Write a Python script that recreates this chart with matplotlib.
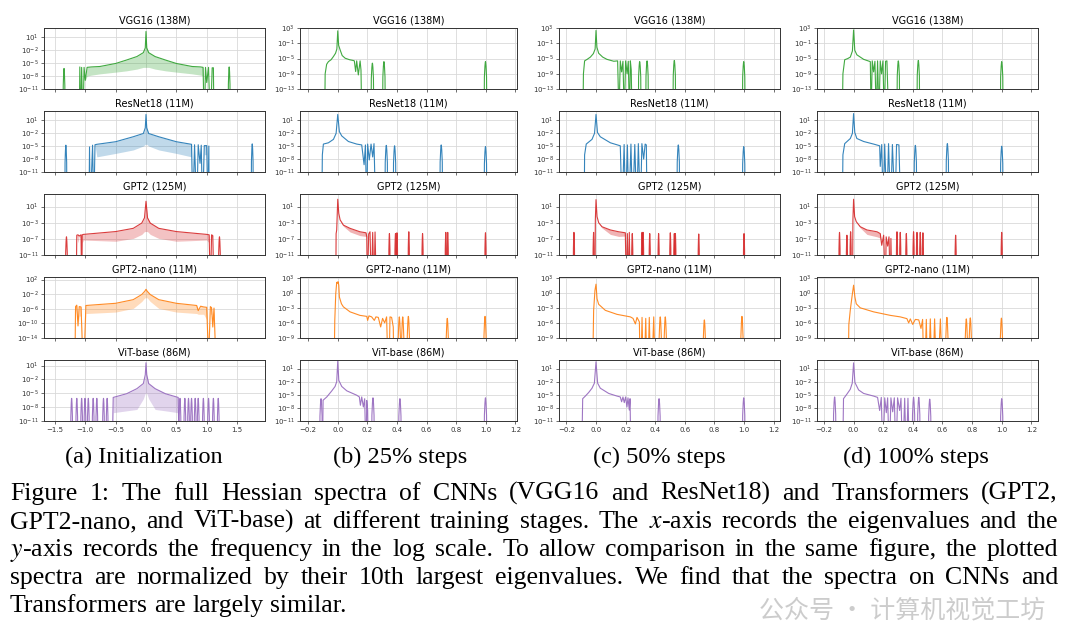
import numpy as np
import matplotlib.pyplot as plt
from matplotlib.ticker import NullLocator

plt.rcParams['mathtext.fontset'] = 'stix'

F = -20  # log10 value that sits below every axis (curve drops out)

# ---------------- (a) Initialization ----------------
# x, upper curve (log10 density), lower edge of the dense comb band
vgg_a_x = [-1.1, -1.09, -1.075, -1.06, -1.04, -1.02, -1.0, -0.97, -0.9, -0.76, -0.5, -0.32, -0.15, -0.044, -0.012, 0.0, 0.012, 0.044, 0.15, 0.32, 0.5, 0.76, 0.9, 0.94, 0.96, 0.98, 1.0, 1.03, 1.06, 1.09, 1.11, 1.12]
vgg_a_hi = [F, -5.9, F, -6.0, F, -6.0, -9.0, -6.0, -5.9, -5.8, -5.1, -4.3, -3.5, -2.6, -1.5, 2.3, -1.5, -2.6, -3.5, -4.3, -5.1, -5.8, -5.9, -6.0, F, -6.0, -9.5, -6.0, F, -6.1, -6.1, F]
vgg_a_lo = [F, -5.9, F, -6.0, F, -6.0, -9.0, -8.0, -7.8, -7.5, -7.1, -6.8, -6.4, -6.0, -6.0, -6.0, -6.0, -6.0, -6.4, -6.8, -7.1, -7.5, -7.8, -8.0, F, -6.0, -9.5, -6.0, F, -6.1, -6.1, F]
vgg_a_spk = [(-1.35, -6.25), (1.37, -5.9)]

res_a_x = [-0.94, -0.93, -0.92, -0.88, -0.86, -0.84, -0.81, -0.5, -0.21, -0.044, -0.012, 0.0, 0.012, 0.044, 0.21, 0.5, 0.75, 0.77, 0.8, 0.835, 0.86, 0.89, 0.91, 0.93, 0.96, 1.0, 1.02, 1.035, 1.04]
res_a_hi = [F, -5.2, F, -4.8, F, -4.7, -4.6, -4.0, -2.85, -2.1, -0.8, 2.3, -0.8, -2.1, -2.85, -4.0, -4.6, F, -4.7, F, -4.7, -9.0, -4.8, F, -4.9, -4.9, F, -5.0, F]
res_a_lo = [F, -5.2, F, -4.8, F, -4.7, -7.5, -6.7, -5.9, -5.0, -4.6, -4.6, -4.6, -5.0, -5.9, -6.7, -7.5, F, -4.7, F, -4.7, -9.0, -7.0, F, -7.0, -7.0, F, -5.0, F]
res_a_spk = [(-1.32, -4.8), (1.75, -4.5)]

gpt_a_x = [-1.15, -1.14, -1.12, -1.1, -1.07, -1.06, -1.05, -1.03, -0.5, -0.21, -0.07, -0.025, 0.0, 0.025, 0.07, 0.21, 0.5, 1.0, 1.04, 1.06, 1.08, 1.1, 1.12]
gpt_a_hi = [F, -6.1, -6.0, -6.3, -6.0, F, -6.0, -5.9, -5.2, -4.4, -3.1, -1.8, 2.3, -1.8, -3.1, -4.4, -5.2, -5.9, -6.0, F, -6.0, -6.2, F]
gpt_a_lo = [F, -6.1, -8.0, -6.3, -7.0, F, -8.0, -7.3, -7.6, -6.9, -5.9, -5.2, -5.2, -5.2, -5.9, -6.9, -7.6, -7.3, -8.0, F, -7.0, -6.2, F]
gpt_a_spk = [(-1.31, -6.5), (1.21, -6.5)]

nano_a_x = [-1.17, -1.16, -1.14, -1.12, -1.1, -1.07, -1.04, -1.02, -0.99, -0.5, -0.21, -0.07, -0.02, 0.0, 0.02, 0.07, 0.21, 0.5, 0.835, 0.86, 0.9, 0.95, 1.0, 1.03, 1.06, 1.08, 1.1, 1.12, 1.15]
nano_a_hi = [F, -5.4, -5.0, -10.7, -5.4, -5.5, F, F, -5.1, -4.5, -3.5, -2.1, -1.2, -0.67, -1.2, -2.1, -3.5, -4.5, -5.1, -6.5, -5.3, -5.5, -5.6, F, -5.4, -5.7, -11.0, -5.8, F]
nano_a_lo = [F, -5.4, -8.0, -10.7, -8.0, -8.0, F, F, -7.3, -6.9, -5.9, -4.0, -3.0, -3.0, -3.0, -4.0, -5.9, -6.9, -7.3, -7.5, -7.5, -7.5, -9.0, F, -7.5, -7.5, -11.0, -7.5, F]
nano_a_spk = []

vit_a_x = [-0.56, -0.54, -0.32, -0.15, -0.044, -0.012, 0.0, 0.012, 0.044, 0.15, 0.32, 0.53, 0.55]
vit_a_hi = [F, -5.9, -5.1, -4.0, -2.9, -1.0, 1.6, -1.0, -2.9, -4.0, -5.1, -5.9, F]
vit_a_lo = [F, -9.2, -8.8, -8.5, -6.2, -5.0, -5.0, -5.0, -6.2, -8.5, -8.8, -9.2, F]
vit_a_spk = [(-1.225, -6.1), (-1.14, -6.1), (-1.06, -6.1), (-1.005, -6.1), (-0.95, -6.1),
             (-0.87, -6.1), (-0.81, -6.1), (-0.70, -6.1), (-0.64, -6.1), (0.56, -6.1),
             (0.64, -6.1), (0.70, -6.1), (0.75, -6.1), (0.81, -6.1), (0.86, -6.1),
             (0.945, -6.1), (1.03, -6.1), (1.11, -6.1), (1.19, -6.1)]

# ---------------- (b) 25% steps ----------------
vgg_b_x = [-0.088, -0.085, -0.075, -0.063, -0.045, -0.03, -0.015, -0.006, 0.0, 0.006, 0.016, 0.03, 0.05, 0.08, 0.105, 0.112, 0.121, 0.128, 0.139, 0.151, 0.157, 0.162]
vgg_b_y = [F, -9.0, -6.5, -5.8, -5.3, -4.5, -3.6, -2.5, 2.3, -1.5, -2.7, -4.2, -4.9, -5.3, -5.5, -5.6, -8.4, -5.6, -9.3, -5.6, -8.0, F]
vgg_b_spk = [(0.234, -6.2), (0.312, -5.8), (0.998, -5.8)]

res_b_x = [-0.108, -0.104, -0.097, -0.063, -0.029, -0.011, 0.0, 0.011, 0.027, 0.072, 0.128, 0.162, 0.178, 0.187, 0.196, 0.202, 0.213, 0.225, 0.236, 0.245, 0.256]
res_b_y = [F, -7.0, -4.5, -4.2, -3.4, -2.0, 2.4, -1.6, -2.6, -3.9, -4.5, -4.7, -9.3, -4.7, F, -4.5, -8.2, -4.5, -7.5, -4.4, F]
res_b_spk = [(0.328, -4.8), (0.384, -4.9), (0.699, -4.7), (0.998, -5.1)]

gpt_b_x = [-0.0135, -0.011, -0.007, 0.0, 0.007, 0.016, 0.038, 0.083, 0.15, 0.191, 0.196, 0.2, 0.209, 0.218, 0.227, 0.236, 0.245, 0.252, 0.261]
gpt_b_y = [F, -5.7, -4.8, 2.8, -0.7, -2.3, -3.6, -4.4, -5.25, -5.5, -6.5, F, -5.8, -5.25, F, -5.4, F, -5.3, F]
gpt_b_lo = [F, -5.7, -4.8, 2.8, -0.7, -2.3, -3.9, -5.3, -6.2, -6.4, -6.5, F, -5.8, -5.25, F, -5.4, F, -5.3, F]
gpt_b_spk = [(0.349, -5.7), (0.39, -5.7), (0.40, -5.5), (0.48, -5.25), (0.573, -5.7),
             (0.73, -5.4), (0.743, -5.4), (0.998, -5.5)]

nano_b_x = [-0.027, -0.02, -0.0135, -0.007, -0.002, 0.002, 0.007, 0.011, 0.025, 0.038, 0.083, 0.15, 0.196, 0.202, 0.211, 0.229, 0.247, 0.258, 0.274, 0.29, 0.303, 0.317, 0.33, 0.344, 0.353, 0.364, 0.375, 0.382]
nano_b_y = [F, -5.5, -0.2, 2.07, 1.9, 2.2, 1.5, -0.85, -2.2, -2.8, -3.8, -4.5, -4.7, -5.5, -4.6, -4.8, -5.5, -4.8, -4.9, -6.8, -5.1, -6.0, -4.8, F, -4.8, -4.9, -6.8, F]
nano_b_spk = [(0.416, -4.8), (0.439, -4.8), (0.477, -4.7), (0.74, -5.1), (0.995, -4.7)]

vit_b_x = [-0.104, -0.099, -0.074, -0.04, -0.018, -0.007, 0.0, 0.007, 0.027, 0.061, 0.128, 0.146, 0.153, 0.162, 0.173, 0.182, 0.191, 0.196, 0.202, 0.207]
vit_b_y = [F, -6.25, -5.5, -4.1, -3.1, -2.0, 2.7, -1.7, -3.1, -4.1, -5.1, -5.5, -7.4, -5.5, -7.8, -5.9, F, -6.3, -8.5, F]
vit_b_spk = [(-0.113, -5.9), (0.238, -5.7), (0.42, -5.9), (0.998, -5.7)]

# ---------------- (c) 50% steps ----------------
vgg_c_x = [-0.088, -0.085, -0.077, -0.06, -0.038, -0.018, -0.006, 0.0, 0.006, 0.018, 0.045, 0.074, 0.12, 0.146, 0.155, 0.164, 0.173, 0.182, 0.191, 0.2, 0.21, 0.218, 0.226, 0.232, 0.238, 0.243]
vgg_c_y = [F, -9.0, -5.6, -5.2, -4.6, -3.7, -2.5, 2.4, -2.0, -3.6, -4.6, -5.2, -5.7, -5.6, F, -5.6, -8.5, -5.7, F, -5.6, -9.0, -5.7, F, -5.6, -8.0, F]
vgg_c_spk = [(0.295, -5.8), (0.345, -5.6), (0.529, -5.5), (0.998, -5.8)]

res_c_x = [-0.08, -0.077, -0.066, -0.027, -0.01, 0.0, 0.01, 0.029, 0.097, 0.164, 0.176, 0.19, 0.2, 0.212, 0.222, 0.236, 0.247, 0.262, 0.275, 0.286, 0.3, 0.31, 0.322, 0.332, 0.34, 0.345]
res_c_y = [F, -7.0, -4.5, -3.4, -2.0, 2.4, -1.8, -2.8, -4.2, -4.9, F, -4.6, F, -4.7, F, -4.5, F, -4.6, F, -4.4, F, -4.4, -8.0, -4.5, -4.7, F]
res_c_spk = [(0.556, -4.7), (0.998, -5.1)]

gpt_c_x = [-0.007, -0.0045, 0.0, 0.007, 0.018, 0.04, 0.097, 0.153, 0.198, 0.205, 0.212, 0.218, 0.225, 0.232]
gpt_c_y = [F, -2.3, 2.7, -1.5, -3.0, -4.0, -4.8, -5.25, -5.5, F, -5.7, F, -5.4, F]
gpt_c_lo = [F, -2.3, 2.7, -1.5, -3.0, -4.3, -5.9, -6.4, -6.3, F, -5.7, F, -5.4, F]
gpt_c_spk = [(-0.149, -5.4), (-0.016, -5.4), (0.245, -5.7), (0.311, -5.4), (0.318, -5.4),
             (0.363, -5.7), (0.423, -5.7), (0.502, -5.5), (0.529, -5.7), (0.536, -5.7),
             (0.694, -5.8), (1.0, -5.7)]

nano_c_x = [-0.025, -0.016, -0.007, 0.0, 0.007, 0.018, 0.063, 0.142, 0.232, 0.25, 0.266, 0.277, 0.293, 0.3, 0.311, 0.322, 0.336, 0.347, 0.36, 0.372, 0.39, 0.403]
nano_c_y = [F, -3.5, 0.5, 1.7, -1.2, -2.3, -3.5, -4.3, -4.8, -5.1, -6.2, -4.9, -5.8, F, -4.9, F, -5.1, F, -4.9, F, -4.8, F]
nano_c_spk = [(0.434, -4.8), (0.468, -4.8), (0.732, -5.4), (0.986, -4.7)]

vit_c_x = [-0.097, -0.09, -0.072, -0.05, -0.027, -0.011, 0.0, 0.011, 0.029, 0.086, 0.142, 0.164, 0.173, 0.182, 0.191, 0.2, 0.209, 0.216, 0.225, 0.23, 0.236]
vit_c_y = [F, -5.9, -5.3, -4.5, -3.5, -2.35, 2.55, -2.35, -3.5, -4.7, -5.3, -5.5, -6.6, -5.5, -6.8, -5.5, -7.8, -5.7, -8.5, -5.9, F]
vit_c_spk = [(0.426, -5.9), (0.998, -5.7)]

# ---------------- (d) 100% steps ----------------
vgg_d_x = [-0.076, -0.072, -0.06, -0.04, -0.022, -0.008, 0.0, 0.008, 0.022, 0.068, 0.113, 0.118, 0.126, 0.135, 0.144, 0.153, 0.162, 0.171, 0.18, 0.189, 0.198, 0.207, 0.216, 0.225, 0.236]
vgg_d_y = [F, -9.0, -5.3, -5.0, -4.6, -3.0, 2.55, -2.8, -4.0, -5.2, -5.8, F, -5.6, -8.5, -5.7, F, -5.6, F, -5.6, -9.0, -5.6, F, -5.7, -5.6, F]
vgg_d_spk = [(0.302, -5.6), (0.437, -5.5), (1.0, -5.8)]

res_d_x = [-0.076, -0.072, -0.06, -0.022, -0.008, 0.0, 0.008, 0.022, 0.068, 0.135, 0.176, 0.18, 0.19, 0.2, 0.21, 0.224, 0.236, 0.25, 0.262, 0.28, 0.29, 0.306, 0.318]
res_d_y = [F, -7.0, -4.4, -3.2, -2.0, 2.6, -1.8, -3.2, -3.9, -4.5, -4.9, -9.7, -4.6, F, -4.5, F, -4.4, F, -4.6, F, -4.6, -4.7, F]
res_d_spk = [(0.417, -4.8), (0.633, -4.4), (1.0, -5.0)]

gpt_d_x = [-0.007, -0.0045, 0.0, 0.007, 0.018, 0.045, 0.09, 0.158, 0.18, 0.19, 0.203, 0.214, 0.22, 0.23, 0.239, 0.248, 0.252, 0.259]
gpt_d_y = [F, -2.3, 2.8, -1.5, -2.75, -4.0, -4.8, -5.25, -5.7, -8.6, -6.1, F, -6.5, -8.8, -6.5, F, -6.9, F]
gpt_d_lo = [F, -2.3, 2.8, -1.5, -2.75, -4.3, -5.9, -6.5, -6.8, -8.6, -6.1, F, -6.5, -8.8, -6.5, F, -6.9, F]
gpt_d_spk = [(-0.095, -5.4), (-0.045, -6.1), (-0.02, -5.25), (0.293, -5.25), (0.315, -5.4),
             (0.356, -5.7), (0.405, -5.25), (0.428, -5.4), (0.45, -5.4), (0.468, -5.5),
             (0.689, -6.1), (1.0, -5.4)]

nano_d_x = [-0.038, -0.032, -0.0225, -0.011, 0.0, 0.009, 0.018, 0.045, 0.135, 0.248, 0.315, 0.36, 0.372, 0.383, 0.399, 0.417, 0.44, 0.455, 0.466, 0.477, 0.491, 0.502, 0.518, 0.532, 0.547, 0.563, 0.586, 0.604]
nano_d_y = [F, -6.3, -3.5, -0.85, 1.5, -0.85, -2.2, -3.0, -3.8, -4.5, -4.8, -5.15, -6.0, -5.2, -6.3, -5.3, -5.4, -7.1, -5.3, F, -5.3, F, -5.2, F, -5.2, F, -5.2, F]
nano_d_spk = [(0.63, -4.9), (0.761, -5.2), (0.788, -5.0), (0.998, -5.05)]

vit_d_x = [-0.074, -0.068, -0.045, -0.0225, -0.009, 0.0, 0.009, 0.034, 0.068, 0.135, 0.162, 0.176, 0.187, 0.198, 0.21, 0.221, 0.23, 0.241, 0.252, 0.264, 0.275, 0.286, 0.297, 0.311, 0.32, 0.331, 0.345, 0.356, 0.367, 0.378]
vit_d_y = [F, -5.9, -4.85, -3.75, -2.35, 2.3, -2.2, -3.9, -4.7, -5.3, -5.6, -8.6, -5.6, F, -5.7, -9.1, -5.7, F, -5.7, -8.9, -5.7, F, -5.7, -8.6, -5.8, F, -5.8, F, -5.8, F]
vit_d_spk = [(-0.128, -5.5), (0.405, -5.6), (0.44, -5.6), (0.514, -6.0), (1.0, -5.9)]

titles = ["VGG16 (138M)", "ResNet18 (11M)", "GPT2 (125M)", "GPT2-nano (11M)", "ViT-base (86M)"]
colors = ["tab:green", "tab:blue", "tab:red", "tab:orange", "tab:purple"]
subcaps = ["(a) Initialization", "(b) 25% steps", "(c) 50% steps", "(d) 100% steps"]

# y ticks (log10) and limits, first column vs the trained columns
yticks_init = [[1, -2, -5, -8, -11], [1, -2, -5, -8, -11], [1, -3, -7, -11], [2, -2, -6, -10, -14], [1, -2, -5, -8, -11]]
ylim_init = [(-11, 3.1), (-11, 3.1), (-11, 4.1), (-14, 2.7), (-11, 2.2)]
yticks_tr = [[3, -1, -5, -9, -13], [1, -2, -5, -8, -11], [1, -3, -7, -11], [3, 0, -3, -6, -9], [1, -2, -5, -8, -11]]
ylim_tr = [(-13, 3.05), (-11, 3.2), (-11, 4.1), (-9, 3.13), (-11, 2.95)]

columns = [
    [(vgg_a_x, vgg_a_hi, vgg_a_lo, vgg_a_spk), (res_a_x, res_a_hi, res_a_lo, res_a_spk),
     (gpt_a_x, gpt_a_hi, gpt_a_lo, gpt_a_spk), (nano_a_x, nano_a_hi, nano_a_lo, nano_a_spk),
     (vit_a_x, vit_a_hi, vit_a_lo, vit_a_spk)],
    [(vgg_b_x, vgg_b_y, None, vgg_b_spk), (res_b_x, res_b_y, None, res_b_spk),
     (gpt_b_x, gpt_b_y, gpt_b_lo, gpt_b_spk), (nano_b_x, nano_b_y, None, nano_b_spk),
     (vit_b_x, vit_b_y, None, vit_b_spk)],
    [(vgg_c_x, vgg_c_y, None, vgg_c_spk), (res_c_x, res_c_y, None, res_c_spk),
     (gpt_c_x, gpt_c_y, gpt_c_lo, gpt_c_spk), (nano_c_x, nano_c_y, None, nano_c_spk),
     (vit_c_x, vit_c_y, None, vit_c_spk)],
    [(vgg_d_x, vgg_d_y, None, vgg_d_spk), (res_d_x, res_d_y, None, res_d_spk),
     (gpt_d_x, gpt_d_y, gpt_d_lo, gpt_d_spk), (nano_d_x, nano_d_y, None, nano_d_spk),
     (vit_d_x, vit_d_y, None, vit_d_spk)],
]

W, H = 1080, 630
fig = plt.figure(figsize=(10.8, 6.3), dpi=100)

col_px = [(44, 265), (300, 517), (559, 780), (817, 1038)]
xlims = [(-1.68, 1.96), (-0.255, 1.211), (-0.25, 1.243), (-0.247, 1.245)]
row_top = [28, 111, 194, 277, 360]
row_h = 61
sub_cx = [144, 400, 659, 916]

# narrow peak profile (offsets in half-widths / decades)
pk_dx = np.array([-1, -0.6, -0.3, -0.1, 0, 0.1, 0.3, 0.6, 1])
pk_dy = np.array([-30, -4, -1.2, -0.15, 0, -0.15, -1.2, -4, -30])

for c, panels in enumerate(columns):
    l, r = col_px[c]
    for i, (x, hi, lo, spk) in enumerate(panels):
        ax = fig.add_axes([l / W, 1 - (row_top[i] + row_h) / H, (r - l) / W, row_h / H])
        col = colors[i]
        x = np.array(x)
        ax.plot(x, 10.0 ** np.array(hi), color=col, lw=0.8, alpha=0.9)
        if lo is not None:
            ax.fill_between(x, 10.0 ** np.array(lo), 10.0 ** np.array(hi), color=col,
                            alpha=0.28 if c == 0 else 0.35, lw=0)
        if c == 0:
            w = 0.022
        elif i == 2:
            w = 0.006
        else:
            w = 0.012
        for xs, pk in spk:
            ax.plot(xs + pk_dx * w, 10.0 ** (pk + pk_dy), color=col, lw=0.8, alpha=0.9)
        ax.set_yscale('log')
        ax.set_xlim(*xlims[c])
        lims = ylim_init[i] if c == 0 else ylim_tr[i]
        ticks = yticks_init[i] if c == 0 else yticks_tr[i]
        ax.set_ylim(10.0 ** lims[0], 10.0 ** lims[1])
        ax.set_yticks([10.0 ** t for t in ticks])
        ax.yaxis.set_minor_locator(NullLocator())
        if c == 0:
            ax.set_xticks([-1.5, -1.0, -0.5, 0.0, 0.5, 1.0, 1.5])
        else:
            ax.set_xticks([-0.2, 0.0, 0.2, 0.4, 0.6, 0.8, 1.0, 1.2])
        ax.grid(True, color='#d9d9d9', lw=0.6)
        ax.set_axisbelow(True)
        ax.tick_params(labelsize=5, length=2.5, width=0.5, pad=1.5, colors='#333333')
        if i < 4:
            ax.tick_params(labelbottom=False)
        for s in ax.spines.values():
            s.set_linewidth(0.7)
            s.set_color('#333333')
        ax.set_title(titles[i], fontsize=7, pad=3)
    fig.text(sub_cx[c] / W, 1 - 463 / H, subcaps[c], ha='center', va='baseline',
             fontsize=17.5, family='Liberation Serif')

# caption, justified between x0 and x1
cap_lines = [
    "Figure 1: The full Hessian spectra of CNNs (VGG16 and ResNet18) and Transformers (GPT2,",
    "GPT2-nano, and ViT-base) at different training stages. The $x$-axis records the eigenvalues and the",
    "$y$-axis records the frequency in the log scale. To allow comparison in the same figure, the plotted",
    "spectra are normalized by their 10th largest eigenvalues.  We find that the spectra on CNNs and",
    "Transformers are largely similar.",
]
cap_base = [500, 528, 556, 584, 612]
x0, x1 = 10, 1058
fs = 18.5
rend = fig.canvas.get_renderer()
for k, line in enumerate(cap_lines):
    words = line.split()
    ts = [fig.text(0, 1 - cap_base[k] / H, wd, fontsize=fs, family='Liberation Serif', va='baseline')
          for wd in words]
    ws = [t.get_window_extent(rend).width for t in ts]
    if k < len(cap_lines) - 1:
        gap = (x1 - x0 - sum(ws)) / (len(ws) - 1)
    else:
        gap = fs * 100 / 72 * 0.25
    xp = x0
    for t, wdt in zip(ts, ws):
        t.set_x(xp / W)
        xp += wdt + gap

# watermark, kept under the caption's fourth line
fig.text(1045 / W, 1 - 617 / H, "公众号 · 计算机视觉工坊", ha='right', va='baseline', fontsize=18,
         family=['Noto Sans CJK SC', 'DejaVu Sans'], color='#9a9a9a', alpha=0.5)

fig.savefig('out.png', dpi=100)
